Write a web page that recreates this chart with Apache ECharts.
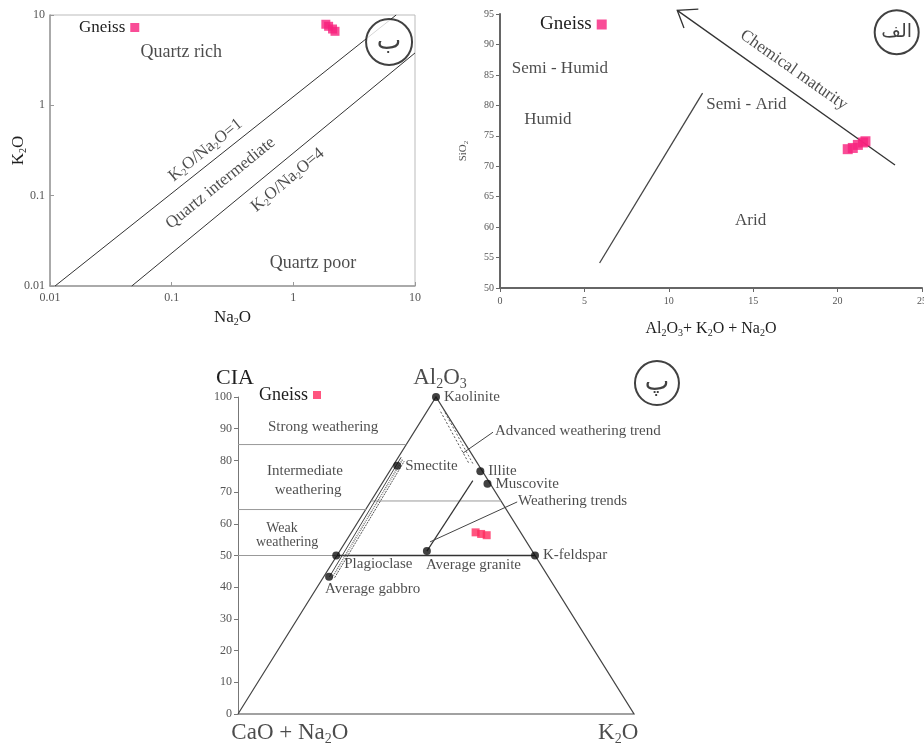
<!DOCTYPE html>
<html>
<head>
<meta charset="utf-8">
<script src="https://cdn.jsdelivr.net/npm/echarts@6/dist/echarts.min.js"></script>
<style>
  html, body { margin: 0; padding: 0; background: #fff; }
  #chart { width: 924px; height: 747px; }
</style>
</head>
<body>
<div id="chart"></div>
<script>
// ---------- data: K2O vs Na2O (log-log) ----------
const naKGneiss = [[1.85, 7.9], [1.95, 7.5], [2.1, 7.0], [2.2, 6.6]];
const ratio1Line = [[0.011, 0.01], [7.0, 10]];
const ratio4Line = [[0.047, 0.01], [10, 3.8]];

// ---------- data: SiO2 vs Al2O3+K2O+Na2O ----------
const alkSiGneiss = [[20.6, 72.8], [20.9, 73.0], [21.2, 73.5], [21.5, 73.9], [21.65, 74.1]];
const climateLine = [[5.9, 54.1], [12.0, 82.0]];
const maturityLine = [[23.4, 70.2], [10.5, 95.6]];
const maturityHead = [[11.75, 95.8], [10.5, 95.6], [10.9, 92.7]];

// ---------- data: A-CN-K ternary with CIA scale ----------
const triangle = [[0, 0], [50, 100], [100, 0], [0, 0]];
const mineralNames = ['Kaolinite', 'Smectite', 'Illite', 'Muscovite', 'K-feldspar',
                      'Plagioclase', 'Average granite', 'Average gabbro'];
const mineralX   = [50, 40.2, 61.2, 63.0, 75.0, 24.8, 47.7, 23.0];
const mineralCIA = [100, 78.3, 76.6, 72.6, 50.0, 50.0, 51.4, 43.3];
const ternGneiss = [[60.0, 57.3], [61.4, 56.8], [62.8, 56.4]];
const ciaZoneLines = [
  [[0, 85], [42.5, 85]],
  [[0, 64.5], [32.3, 64.5]],
  [[33.6, 67.2], [66.4, 67.2]],
  [[0, 50], [25, 50]]
];
const feldsparJoin = [[25, 50], [75, 50]];
const plagSmecBand = [[[23.1, 43.3], [41.2, 81.0]], [[24.4, 43.0], [42.0, 79.8]], [[23.8, 43.1], [41.6, 80.4]]];
const advancedBand = [[[58.2, 79.3], [50.9, 96.0]], [[59.3, 79.0], [52.0, 95.7]]];
const granitTrend = [[47.7, 51.4], [59.3, 73.6]];
const trendLeader = [[48.5, 54.3], [70.5, 66.9]];
const advancedLeader = [[56.8, 82.3], [64.4, 88.9]];

// ---------- styling ----------
const serif = '"Liberation Serif", "DejaVu Serif", serif';
const ink = '#1e1e1e';
const pink = '#f7207d';
const red = '#ff2a5f';

// rich styles for formulas: {n|..} normal, {s|..} subscript
function richFor(size, color) {
  const c = color || ink;
  return {
    n: { fontSize: size, fontFamily: serif, color: c },
    s: { fontSize: Math.round(size * 0.6), fontFamily: serif, color: c,
         padding: [Math.round(size * 0.55), 0, 0, 0] }
  };
}
// digits that follow a letter are written as subscripts
function chem(t) {
  let out = '', buf = '', mode = 'n';
  for (let i = 0; i < t.length; i++) {
    const c = t[i];
    const sub = /\d/.test(c) && (mode === 's' || /[A-Za-z]/.test(t[i - 1] || ''));
    const m = sub ? 's' : 'n';
    if (m !== mode) { if (buf) out += '{' + mode + '|' + buf + '}'; buf = ''; mode = m; }
    buf += c;
  }
  if (buf) out += '{' + mode + '|' + buf + '}';
  return out;
}

// text placed at data coordinates of a grid
function textSeries(idx, items) {
  return {
    type: 'scatter', xAxisIndex: idx, yAxisIndex: idx, silent: true, clip: false, z: 6,
    symbolSize: 1, itemStyle: { color: 'rgba(0,0,0,0)' },
    data: items.map(it => ({
      value: [it.x, it.y],
      label: {
        show: true, position: 'inside', formatter: chem(it.t),
        rotate: it.r || 0, align: it.a || 'center', verticalAlign: 'middle',
        rich: richFor(it.f || 16)
      }
    }))
  };
}

// circled panel letter
function badge(idx, x, y, letter, size, fontSize) {
  return {
    type: 'scatter', xAxisIndex: idx, yAxisIndex: idx, silent: true, clip: false, z: 8,
    symbol: 'circle', symbolSize: size,
    itemStyle: { color: '#fff', borderColor: '#111', borderWidth: 2 },
    label: { show: true, position: 'inside', formatter: letter,
             fontFamily: '"DejaVu Sans", sans-serif', fontSize: fontSize, color: '#111' },
    data: [[x, y]]
  };
}

function segs(idx, list, style, extra) {
  return Object.assign({
    type: 'lines', coordinateSystem: 'cartesian2d', xAxisIndex: idx, yAxisIndex: idx,
    polyline: true, silent: true, clip: false, z: 3,
    lineStyle: Object.assign({ color: '#333', width: 1, opacity: 1 }, style),
    data: list.map(c => ({ coords: c }))
  }, extra || {});
}

const tickFont = { fontFamily: serif, color: '#555' };

const option = {
  animation: false,
  backgroundColor: '#fff',
  grid: [
    { left: 50, top: 15, width: 365, height: 271, show: true, borderColor: '#bbb', borderWidth: 1,
      outerBoundsMode: 'none' },
    { left: 500, top: 14, width: 422, height: 274, outerBoundsMode: 'none' },
    { left: 238, top: 397, width: 396, height: 317, outerBoundsMode: 'none' }
  ],
  legend: [
    { left: 79, top: 19, align: 'right', icon: 'rect', itemWidth: 9, itemHeight: 9, padding: 0,
      selectedMode: false, textStyle: { fontFamily: serif, fontSize: 17, color: ink },
      data: [{ name: 'Gneiss', itemStyle: { color: pink } }] },
    { left: 540, top: 15, align: 'right', icon: 'rect', itemWidth: 10, itemHeight: 10, padding: 0,
      selectedMode: false, textStyle: { fontFamily: serif, fontSize: 19, color: ink },
      data: [{ name: 'Gneiss', itemStyle: { color: pink } }] },
    { left: 259, top: 386, align: 'right', icon: 'rect', itemWidth: 8, itemHeight: 8, padding: 0,
      selectedMode: false, textStyle: { fontFamily: serif, fontSize: 18, color: ink },
      data: [{ name: 'Gneiss', itemStyle: { color: red } }] }
  ],
  xAxis: [
    { gridIndex: 0, type: 'log', logBase: 10, min: 0.01, max: 10,
      axisLine: { lineStyle: { color: '#999', width: 1.5 } },
      axisTick: { inside: true, length: 4, lineStyle: { color: '#999' } },
      axisLabel: Object.assign({ fontSize: 12, margin: 6 }, tickFont),
      splitLine: { show: false }, minorTick: { show: false },
      name: chem('Na2O'), nameLocation: 'middle', nameGap: 22, nameMoveOverlap: false,
      nameTextStyle: { rich: richFor(17) } },
    { gridIndex: 1, type: 'value', min: 0, max: 25, interval: 5,
      axisLine: { lineStyle: { color: '#666', width: 2 } },
      axisTick: { length: 4, lineStyle: { color: '#666' } },
      axisLabel: Object.assign({ fontSize: 10, margin: 8 }, tickFont),
      splitLine: { show: false },
      name: chem('Al2O3+ K2O + Na2O'), nameLocation: 'middle', nameGap: 31, nameMoveOverlap: false,
      nameTextStyle: { rich: richFor(16) } },
    { gridIndex: 2, type: 'value', min: 0, max: 100, show: false }
  ],
  yAxis: [
    { gridIndex: 0, type: 'log', logBase: 10, min: 0.01, max: 10,
      axisLine: { lineStyle: { color: '#999', width: 1.5 } },
      axisTick: { inside: true, length: 4, lineStyle: { color: '#999' } },
      axisLabel: Object.assign({ fontSize: 12, margin: 5 }, tickFont),
      splitLine: { show: false }, minorTick: { show: false },
      name: chem('K2O'), nameLocation: 'middle', nameGap: 22, nameRotate: 90, nameMoveOverlap: false,
      nameTextStyle: { rich: richFor(17) } },
    { gridIndex: 1, type: 'value', min: 50, max: 95, interval: 5,
      axisLine: { lineStyle: { color: '#666', width: 2 } },
      axisTick: { length: 4, lineStyle: { color: '#666' } },
      axisLabel: Object.assign({ fontSize: 10, margin: 6 }, tickFont),
      splitLine: { show: false },
      name: chem('SiO2'), nameLocation: 'middle', nameGap: 30, nameRotate: 90, nameMoveOverlap: false,
      nameTextStyle: { rich: richFor(11, '#555') } },
    { gridIndex: 2, type: 'value', min: 0, max: 100, interval: 10,
      axisLine: { lineStyle: { color: '#777', width: 1 } },
      axisTick: { length: 4, lineStyle: { color: '#777' } },
      axisLabel: Object.assign({ fontSize: 12, margin: 6 }, tickFont),
      splitLine: { show: false },
      name: 'CIA', nameLocation: 'end', nameGap: 8,
      nameTextStyle: { fontFamily: serif, fontSize: 22, color: ink, align: 'right', padding: [0, -16, 0, 0] } }
  ],
  series: [
    // ----- K2O vs Na2O -----
    segs(0, [ratio1Line, ratio4Line], { color: '#333', width: 1 }),
    { name: 'Gneiss', type: 'scatter', xAxisIndex: 0, yAxisIndex: 0, z: 5,
      symbol: 'rect', symbolSize: 9, itemStyle: { color: pink }, data: naKGneiss },
    textSeries(0, [
      { t: 'Quartz rich', x: 0.12, y: 3.9, f: 18 },
      { t: 'Quartz poor', x: 1.45, y: 0.0179, f: 18 },
      { t: 'K2O/Na2O=1', x: 0.19, y: 0.32, r: 39, f: 17 },
      { t: 'Quartz intermediate', x: 0.252, y: 0.138, r: 39, f: 17 },
      { t: 'K2O/Na2O=4', x: 0.9, y: 0.149, r: 40, f: 17 }
    ]),
    badge(0, 6.12, 5.02, 'ب', 46, 26),

    // ----- SiO2 vs Al2O3+K2O+Na2O -----
    segs(1, [climateLine], { color: '#444', width: 1.3 }),
    segs(1, [maturityLine, maturityHead], { color: '#333', width: 1.3 }),
    { name: 'Gneiss', type: 'scatter', xAxisIndex: 1, yAxisIndex: 1, z: 5,
      symbol: 'rect', symbolSize: 10, itemStyle: { color: pink }, data: alkSiGneiss },
    textSeries(1, [
      { t: 'Semi - Humid', x: 3.55, y: 86.1, f: 17 },
      { t: 'Humid', x: 2.84, y: 77.6, f: 17 },
      { t: 'Semi - Arid', x: 14.6, y: 80.2, f: 17 },
      { t: 'Arid', x: 14.85, y: 61.0, f: 17 },
      { t: 'Chemical maturity', x: 17.4, y: 85.8, r: -35, f: 17 }
    ]),
    badge(1, 23.5, 92.0, 'الف', 44, 19),

    // ----- ternary -----
    segs(2, [triangle], { color: '#444', width: 1.2 }),
    segs(2, ciaZoneLines, { color: '#999', width: 1 }),
    segs(2, [feldsparJoin], { color: '#333', width: 1.5 }),
    segs(2, [plagSmecBand[0]], { color: '#444', width: 1 },
         { symbol: ['none', 'arrow'], symbolSize: [0, 6] }),
    segs(2, [plagSmecBand[1]], { color: '#555', width: 1, type: [2, 1] }),
    segs(2, [plagSmecBand[2]], { color: '#777', width: 1.5, type: [1, 1] }),
    segs(2, [advancedBand[0]], { color: '#555', width: 1, type: [2, 2] },
         { symbol: ['none', 'arrow'], symbolSize: [0, 6] }),
    segs(2, [advancedBand[1]], { color: '#666', width: 1, type: [2, 2] }),
    segs(2, [granitTrend], { color: '#333', width: 1.2 },
         { symbol: ['none', 'arrow'], symbolSize: [0, 7] }),
    segs(2, [trendLeader, advancedLeader], { color: '#444', width: 1 }),
    { type: 'scatter', xAxisIndex: 2, yAxisIndex: 2, z: 7, silent: true,
      symbol: 'circle', symbolSize: 8, itemStyle: { color: '#111' },
      label: { show: true, position: 'right', distance: 4, formatter: p => p.name,
               fontFamily: serif, fontSize: 15, color: ink },
      data: mineralNames.map((n, i) => {
        const item = { name: n, value: [mineralX[i], mineralCIA[i]] };
        if (n === 'Plagioclase') item.label = { position: [12, 13], align: 'left', verticalAlign: 'middle' };
        if (n === 'Average granite') item.label = { position: [3, 18], align: 'left', verticalAlign: 'middle' };
        if (n === 'Average gabbro') item.label = { position: [0, 16], align: 'left', verticalAlign: 'middle' };
        return item;
      }) },
    { name: 'Gneiss', type: 'scatter', xAxisIndex: 2, yAxisIndex: 2, z: 5,
      symbol: 'rect', symbolSize: 8, itemStyle: { color: red }, data: ternGneiss },
    textSeries(2, [
      { t: 'Strong weathering', x: 21.5, y: 90.5, f: 15 },
      { t: 'Intermediate', x: 16.9, y: 76.7, f: 15 },
      { t: 'weathering', x: 17.7, y: 70.7, f: 15 },
      { t: 'Weak', x: 11.1, y: 58.7, f: 14 },
      { t: 'weathering', x: 12.4, y: 54.3, f: 14 },
      { t: 'Advanced weathering trend', x: 64.9, y: 89.3, a: 'left', f: 15 },
      { t: 'Weathering trends', x: 70.7, y: 67.2, a: 'left', f: 15 },
      { t: 'Al2O3', x: 51, y: 106, f: 23 },
      { t: 'CaO + Na2O', x: 13.1, y: -6, f: 23 },
      { t: 'K2O', x: 96, y: -6, f: 23 }
    ]),
    badge(2, 105.8, 104.4, 'پ', 44, 26)
  ]
};

const chart = echarts.init(document.getElementById('chart'));
chart.setOption(option);
</script>
</body>
</html>
